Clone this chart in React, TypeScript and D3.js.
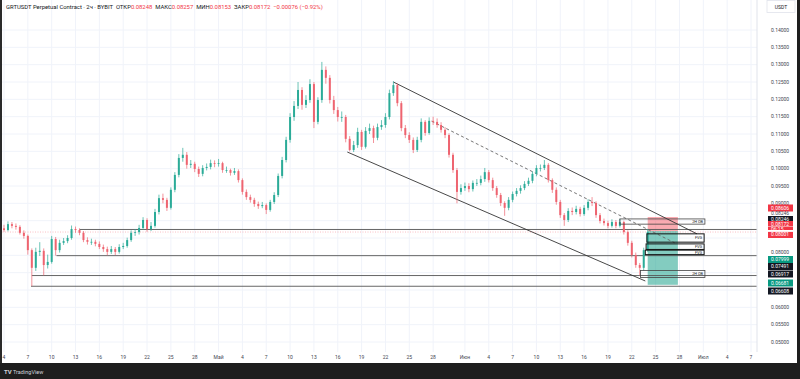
import React from "react";
import * as d3 from "d3";

const W = 800;
const H = 379;

// ---------- data (12h candles from Apr 4, 2025) ----------
const firstOpen = 0.0828;
const closes = [
  0.0823, 0.0840, 0.0835, 0.0832, 0.0815, 0.0806, 0.0765, 0.0714, 0.0760, 0.0763,
  0.0722, 0.0731, 0.0797, 0.0765, 0.0786, 0.0791, 0.0800, 0.0826, 0.0823, 0.0815,
  0.0794, 0.0789, 0.0789, 0.0783, 0.0774, 0.0768, 0.0760, 0.0768, 0.0760, 0.0774,
  0.0777, 0.0794, 0.0815, 0.0817, 0.0829, 0.0852, 0.0826, 0.0835, 0.0875, 0.0915,
  0.0910, 0.0887, 0.0939, 0.0982, 0.1031, 0.1040, 0.1011, 0.1014, 0.0999, 0.0985,
  0.1002, 0.1005, 0.1016, 0.1014, 0.1016, 0.0996, 0.0996, 0.0988, 0.0993, 0.0967,
  0.0933, 0.0918, 0.0910, 0.0898, 0.0892, 0.0895, 0.0881, 0.0904, 0.0924, 0.0979,
  0.1025, 0.1083, 0.1149, 0.1181, 0.1227, 0.1184, 0.1198, 0.1244, 0.1135, 0.1198,
  0.1285, 0.1262, 0.1198, 0.1169, 0.1149, 0.1149, 0.1086, 0.1054, 0.1068, 0.1106,
  0.1063, 0.1109, 0.1117, 0.1089, 0.1120, 0.1126, 0.1149, 0.1218, 0.1241, 0.1189,
  0.1117, 0.1097, 0.1083, 0.1054, 0.1083, 0.1135, 0.1103, 0.1138, 0.1135, 0.1126,
  0.1112, 0.1097, 0.1040, 0.0996, 0.0933, 0.0944, 0.0950, 0.0941, 0.0959, 0.0959,
  0.0970, 0.0990, 0.0967, 0.0944, 0.0924, 0.0901, 0.0887, 0.0910, 0.0927, 0.0936,
  0.0944, 0.0956, 0.0965, 0.0985, 0.1002, 0.1002, 0.1011, 0.0967, 0.0939, 0.0904,
  0.0866, 0.0852, 0.0878, 0.0875, 0.0884, 0.0869, 0.0887, 0.0904, 0.0901, 0.0866,
  0.0849, 0.0843, 0.0835, 0.0846, 0.0835, 0.0846, 0.0817, 0.0786, 0.0751, 0.0722,
  0.0714, 0.0765, 0.08172,
];
const highs = [
  0.0838, 0.0848, 0.0846, 0.0842, 0.0837, 0.0822, 0.0810, 0.0770, 0.0772, 0.0788,
  0.0770, 0.0752, 0.0806, 0.0803, 0.0795, 0.0800, 0.0808, 0.0836, 0.0833, 0.0828,
  0.0820, 0.0802, 0.0798, 0.0795, 0.0790, 0.0781, 0.0775, 0.0777, 0.0774, 0.0782,
  0.0786, 0.0801, 0.0822, 0.0826, 0.0838, 0.0860, 0.0857, 0.0846, 0.0884, 0.0925,
  0.0928, 0.0916, 0.0946, 0.0990, 0.1042, 0.1060, 0.1048, 0.1025, 0.1020, 0.1006,
  0.1010, 0.1015, 0.1026, 0.1024, 0.1028, 0.1020, 0.1006, 0.1000, 0.1002, 0.0998,
  0.0972, 0.0940, 0.0925, 0.0916, 0.0905, 0.0904, 0.0900, 0.0910, 0.0932, 0.0986,
  0.1034, 0.1092, 0.1160, 0.1195, 0.1250, 0.1235, 0.1212, 0.1258, 0.1250, 0.1206,
  0.1308, 0.1295, 0.1270, 0.1210, 0.1178, 0.1165, 0.1155, 0.1094, 0.1080, 0.1118,
  0.1112, 0.1120, 0.1130, 0.1124, 0.1130, 0.1140, 0.1160, 0.1228, 0.1252, 0.1246,
  0.1195, 0.1126, 0.1105, 0.1090, 0.1092, 0.1145, 0.1140, 0.1148, 0.1150, 0.1145,
  0.1134, 0.1120, 0.1102, 0.1046, 0.1002, 0.0955, 0.0960, 0.0958, 0.0966, 0.0970,
  0.0980, 0.1002, 0.0996, 0.0974, 0.0950, 0.0930, 0.0906, 0.0918, 0.0934, 0.0944,
  0.0952, 0.0964, 0.0974, 0.0992, 0.1010, 0.1012, 0.1025, 0.1016, 0.0972, 0.0946,
  0.0910, 0.0872, 0.0886, 0.0888, 0.0893, 0.0890, 0.0895, 0.0912, 0.0918, 0.0906,
  0.0872, 0.0856, 0.0850, 0.0854, 0.0852, 0.0855, 0.0850, 0.0822, 0.0792, 0.0758,
  0.0728, 0.0772, 0.0826,
];
const lows = [
  0.0818, 0.0819, 0.0828, 0.0824, 0.0810, 0.0798, 0.0752, 0.0661, 0.0705, 0.0748,
  0.0692, 0.0712, 0.0726, 0.0749, 0.0758, 0.0780, 0.0785, 0.0795, 0.0815, 0.0808,
  0.0788, 0.0781, 0.0780, 0.0776, 0.0768, 0.0760, 0.0750, 0.0754, 0.0751, 0.0755,
  0.0768, 0.0772, 0.0789, 0.0806, 0.0810, 0.0824, 0.0818, 0.0820, 0.0830, 0.0868,
  0.0900, 0.0878, 0.0882, 0.0932, 0.0975, 0.1020, 0.1000, 0.1002, 0.0990, 0.0976,
  0.0978, 0.0995, 0.0998, 0.1004, 0.1006, 0.0988, 0.0988, 0.0980, 0.0982, 0.0960,
  0.0925, 0.0910, 0.0902, 0.0890, 0.0884, 0.0886, 0.0869, 0.0876, 0.0898, 0.0918,
  0.0972, 0.1018, 0.1075, 0.1138, 0.1172, 0.1170, 0.1175, 0.1190, 0.1117, 0.1128,
  0.1190, 0.1245, 0.1188, 0.1158, 0.1136, 0.1135, 0.1076, 0.1050, 0.1048, 0.1060,
  0.1054, 0.1058, 0.1100, 0.1074, 0.1082, 0.1112, 0.1118, 0.1142, 0.1210, 0.1180,
  0.1108, 0.1088, 0.1074, 0.1045, 0.1048, 0.1076, 0.1095, 0.1098, 0.1126, 0.1118,
  0.1104, 0.1088, 0.1032, 0.0988, 0.0900, 0.0925, 0.0936, 0.0932, 0.0934, 0.0950,
  0.0952, 0.0962, 0.0960, 0.0936, 0.0916, 0.0892, 0.0864, 0.0880, 0.0903, 0.0920,
  0.0928, 0.0938, 0.0950, 0.0958, 0.0978, 0.0992, 0.0996, 0.0960, 0.0930, 0.0896,
  0.0858, 0.0835, 0.0846, 0.0866, 0.0868, 0.0862, 0.0864, 0.0880, 0.0892, 0.0858,
  0.0842, 0.0836, 0.0828, 0.0830, 0.0828, 0.0830, 0.0810, 0.0778, 0.0744, 0.0714,
  0.0692, 0.0706, 0.0760,
];

const priceTicks = [0.14, 0.135, 0.13, 0.125, 0.12, 0.115, 0.11, 0.105, 0.1, 0.095, 0.09, 0.085, 0.08, 0.075, 0.07, 0.065, 0.06, 0.055, 0.05];
const hiddenPriceTicks = [0.085, 0.08, 0.075, 0.07, 0.065];

// [month (0-based), day, label]
const timeTicks: [number, number, string][] = [
  [3, 4, "4"], [3, 7, "7"], [3, 10, "10"], [3, 13, "13"], [3, 16, "16"], [3, 19, "19"], [3, 22, "22"], [3, 25, "25"], [3, 28, "28"],
  [4, 1, "Май"], [4, 4, "4"], [4, 7, "7"], [4, 10, "10"], [4, 13, "13"], [4, 16, "16"], [4, 19, "19"], [4, 22, "22"], [4, 25, "25"], [4, 28, "28"],
  [5, 1, "Июн"], [5, 4, "4"], [5, 7, "7"], [5, 10, "10"], [5, 13, "13"], [5, 16, "16"], [5, 19, "19"], [5, 22, "22"], [5, 25, "25"], [5, 28, "28"],
  [6, 1, "Июл"], [6, 4, "4"], [6, 7, "7"],
];

// horizontal levels: [startDay (days after Apr 4), price]
const levels: [number, number][] = [
  [9.5, 0.08246],
  [6.6, 0.07491],
  [3.5, 0.06917],
  [3.4, 0.06608],
];

// channel / trend lines: [[day, price], [day, price]]
const channelUpper: [number, number][] = [[49.0, 0.1250], [87.2, 0.0812]];
const channelLower: [number, number][] = [[43.2, 0.1048], [80.7, 0.0676]];
const dashedTrend: [number, number][] = [[53.8, 0.1137], [84.4, 0.0786]];

// zones: [dayStart, dayEnd, priceTop, priceBottom, label]
const zones: [number, number, number, number, string][] = [
  [77.5, 88.2, 0.0855, 0.0840, "2H OB"],
  [80.9, 88.1, 0.0812, 0.0788, "FVG"],
  [80.8, 88.1, 0.0783, 0.0767, "FVG"],
  [80.7, 88.1, 0.0765, 0.0752, "FVG"],
  [80.1, 88.2, 0.0706, 0.0686, "2H OB"],
];

const position = { dayStart: 81.0, dayEnd: 84.8, stop: 0.08606, entry: 0.0820, target: 0.0665 };
const lastPrice = 0.08172;

const headerParts: [string, string][] = [
  ["GRTUSDT Perpetual Contract · 2ч · BYBIT  ", "#131722"],
  ["ОТКР", "#131722"], ["0.08248  ", "#f23645"],
  ["МАКС", "#131722"], ["0.08257  ", "#f23645"],
  ["МИН", "#131722"], ["0.08153  ", "#f23645"],
  ["ЗАКР", "#131722"], ["0.08172  ", "#f23645"],
  ["−0.00076 (−0.92%)", "#f23645"],
];

// right-axis badges (stacked by the platform): [text, kind]
const badges: [string, string][] = [
  ["0.08606", "red"],
  ["0.08246", "grey"],
  ["0.08246", "black"],
  ["0.08172", "redTop"],
  ["06:15", "redMid"],
  ["0.08001", "redBot"],
  ["0.08000", "grey"],
  ["0.07999", "green"],
  ["0.07491", "black"],
  ["0.06917", "black"],
  ["0.06681", "green"],
  ["0.06608", "black"],
];
const badgeY = [208, 213.5, 219.5, 224.5, 229, 234.5, 252, 259.5, 266.5, 274, 283, 291];

const FONT = "Roboto, 'Liberation Sans', Arial, sans-serif";

export default function App() {
  const start = new Date(2025, 3, 4);
  const x = d3.scaleTime().domain([start, new Date(2025, 6, 7)]).range([4, 751]);
  const y = d3.scaleLinear().domain([0.05, 0.14]).range([342, 30]);
  const at = (days: number) => d3.timeMinute.offset(start, Math.round(days * 1440));
  const px = (d: number) => x(at(d));

  const candles = closes.map((c, i) => ({
    t: d3.timeHour.offset(start, 12 * i),
    o: i === 0 ? firstOpen : closes[i - 1],
    h: highs[i],
    l: lows[i],
    c,
  }));
  const step = px(0.5) - px(0);
  const bw = step * 0.5;
  const plotRight = 757;

  const up = "#2bab98";
  const down = "#ee6470";

  const line = (pts: [number, number][]) =>
    d3.line<[number, number]>().x((d) => px(d[0])).y((d) => y(d[1]))(pts) || "";

  const badgeFill: Record<string, string> = {
    red: "#f23645", redTop: "#f23645", redMid: "#f23645", redBot: "#f23645",
    black: "#131722", green: "#089981",
  };

  return (
    <svg width={W} height={H} style={{ position: "absolute", left: 0, top: 0, background: "#fff" }} fontFamily={FONT}>
      <rect x={0} y={0} width={W} height={H} fill="#ffffff" />
      {/* grid */}
      {timeTicks.map(([m, d], i) => (
        <line key={"vg" + i} x1={x(new Date(2025, m, d))} x2={x(new Date(2025, m, d))} y1={0} y2={352} stroke="#f0f3fa" strokeWidth={1} />
      ))}
      {priceTicks.map((p, i) => (
        <line key={"hg" + i} x1={0} x2={plotRight} y1={y(p)} y2={y(p)} stroke="#f0f3fa" strokeWidth={1} />
      ))}

      {/* position tool */}
      <rect x={px(position.dayStart)} width={px(position.dayEnd) - px(position.dayStart)} y={y(position.stop)} height={y(position.entry) - y(position.stop)} fill="rgba(242,54,69,0.42)" />
      <rect x={px(position.dayStart)} width={px(position.dayEnd) - px(position.dayStart)} y={y(position.entry)} height={y(position.target) - y(position.entry)} fill="rgba(8,153,129,0.5)" />

      {/* horizontal levels */}
      {levels.map(([d0, p], i) => (
        <line key={"lv" + i} x1={px(d0)} x2={plotRight} y1={y(p)} y2={y(p)} stroke="#555" strokeWidth={0.9} />
      ))}

      {/* channel */}
      <path d={line(channelUpper)} stroke="#333" strokeWidth={0.9} fill="none" />
      <path d={line(channelLower)} stroke="#333" strokeWidth={0.9} fill="none" />
      <path d={line(dashedTrend)} stroke="#666" strokeWidth={0.9} strokeDasharray="3,2.5" fill="none" />

      {/* current price line */}
      <line x1={0} x2={plotRight} y1={y(lastPrice)} y2={y(lastPrice)} stroke="#f23645" strokeOpacity={0.45} strokeWidth={0.7} strokeDasharray="1,1.5" />

      {/* candles */}
      {candles.map((k, i) => {
        const cx = x(k.t);
        const col = k.c >= k.o ? up : down;
        const yt = y(Math.max(k.o, k.c));
        const yb = y(Math.min(k.o, k.c));
        return (
          <g key={"c" + i}>
            <line x1={cx} x2={cx} y1={y(k.h)} y2={y(k.l)} stroke={col} strokeWidth={0.7} />
            <rect x={cx - bw / 2} y={yt} width={bw} height={Math.max(0.8, yb - yt)} fill={col} />
          </g>
        );
      })}

      {/* zones */}
      {zones.map(([d0, d1, pt, pb, label], i) => (
        <g key={"z" + i}>
          <rect x={px(d0)} y={y(pt)} width={px(d1) - px(d0)} height={y(pb) - y(pt)} fill="none" stroke={label === "FVG" ? "#111" : "#444"} strokeWidth={label === "FVG" ? 1 : 0.8} />
          <text x={px(d1) - 2} y={(y(pt) + y(pb)) / 2 + 1.4} fontSize={3.8} textAnchor="end" fill="#222">{label}</text>
        </g>
      ))}

      {/* price axis */}
      <line x1={plotRight} x2={plotRight} y1={0} y2={352} stroke="#e0e3eb" strokeWidth={1} />
      <rect x={767} y={0.5} width={28} height={12} fill="#fff" stroke="#e0e3eb" strokeWidth={0.8} />
      <text x={781} y={8.5} fontSize={5} textAnchor="middle" fill="#131722">USDT</text>
      {priceTicks.filter((p) => !hiddenPriceTicks.includes(p)).map((p, i) => (
        <text key={"pt" + i} x={771} y={y(p) + 1.8} fontSize={5} fill="#434651">{d3.format(".5f")(p)}</text>
      ))}
      {badges.map(([t, kind], i) => {
        const cy = badgeY[i];
        if (kind === "grey") {
          return <text key={"b" + i} x={771} y={cy + 1.8} fontSize={5} fill="#434651">{t}</text>;
        }
        let y0 = cy - 3.5, h = 7;
        if (kind === "redTop") { y0 = cy - 3.5; h = 5; }
        if (kind === "redMid") { y0 = cy - 2.5; h = 3.5; }
        if (kind === "redBot") { y0 = cy - 2.6; h = 6.1; }
        return (
          <g key={"b" + i}>
            <rect x={768} y={y0} width={25} height={h} fill={badgeFill[kind]} />
            <text x={771} y={cy + 1.8} fontSize={5} fill="#ffffff">{t}</text>
          </g>
        );
      })}

      {/* time axis */}
      {timeTicks.map(([m, d, lab], i) => (
        <text key={"tt" + i} x={x(new Date(2025, m, d))} y={359} fontSize={5} textAnchor="middle" fill="#434651">{lab}</text>
      ))}

      {/* header */}
      <text x={6} y={9} fontSize={5.9} fill="#131722">
        {headerParts.map(([t, c], i) => (
          <tspan key={"h" + i} fill={c} style={{ whiteSpace: "pre" }}>{t}</tspan>
        ))}
      </text>

      {/* frame */}
      <rect x={0} y={0} width={2} height={363} fill="#2a2a2a" />
      <rect x={797} y={0} width={3} height={H} fill="#1e1e1e" />
      <rect x={0} y={363} width={W} height={16} fill="#1e1e1e" />
      <text x={4} y={373.5} fontSize={6} fontWeight="bold" fill="#d1d4dc">TV</text>
      <text x={13} y={373.5} fontSize={5.5} fill="#d1d4dc">TradingView</text>
    </svg>
  );
}
